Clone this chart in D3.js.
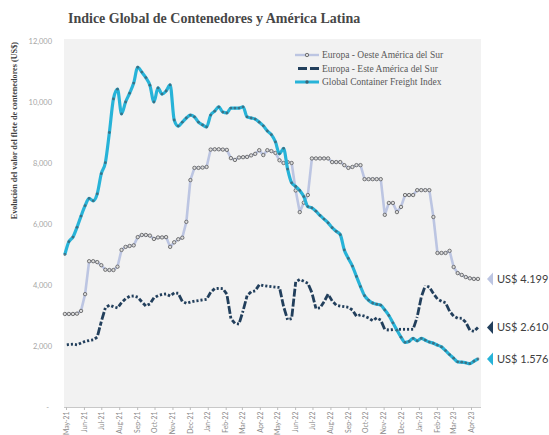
<!DOCTYPE html>
<html>
<head>
<meta charset="utf-8">
<script src="https://cdn.jsdelivr.net/npm/d3@7"></script>
<style>
  body { margin: 0; background: #ffffff; }
  svg { display: block; }
</style>
</head>
<body>
<svg id="chart" width="549" height="435"></svg>
<script>
// Weekly freight rates for a 40' container (US$)
const seriesNames = [
  "Europa - Oeste América del Sur",
  "Europa - Este América del Sur",
  "Global Container Freight Index"
];

const oesteSur = [
  3050, 3050, 3050, 3060, 3150, 3700, 4780, 4780, 4750, 4650,
  4500, 4490, 4490, 4600, 5150, 5250, 5280, 5300, 5570, 5640,
  5640, 5620, 5510, 5560, 5560, 5570, 5250, 5400, 5500, 5550,
  6070, 7440, 7840, 7840, 7850, 7870, 8440, 8450, 8450, 8440,
  8430, 8160, 8100, 8180, 8190, 8200, 8250, 8300, 8420, 8260,
  8420, 8390, 8330, 8090, 8000, 8030, 8000, 7100, 6390, 6700,
  6950, 8150, 8150, 8150, 8150, 8150, 8030, 8030, 8030, 7930,
  7840, 7870, 7930, 7930, 7470, 7470, 7470, 7470, 7470, 6300,
  6690, 6690, 6390, 6560, 6950, 6950, 6950, 7110, 7110, 7110,
  7110, 6230, 5050, 5050, 5050, 5120, 4590, 4390, 4330, 4260,
  4220, 4200, 4199
];

const esteSur = [
  2030, 2050, 2060, 2040, 2100, 2150, 2180, 2200, 2290, 2800,
  3250, 3340, 3290, 3250, 3420, 3550, 3630, 3640, 3600, 3450,
  3310, 3380, 3580, 3650, 3690, 3705, 3640, 3740, 3730, 3460,
  3400, 3440, 3470, 3490, 3510, 3530, 3760, 3880, 3890, 3880,
  3700, 2900, 2740, 2720, 3150, 3650, 3780, 3810, 4010, 3980,
  3960, 3945, 3930, 3920, 3300, 2860, 2900, 4100, 4180, 4120,
  4060, 3750, 3230, 3250, 3450, 3700, 3480, 3340, 3310, 3290,
  3270, 3180, 2980, 3020, 2980, 2920, 2830, 2920, 2850, 2540,
  2525, 2540, 2547, 2547, 2547, 2547, 2547, 2950, 3600, 3980,
  3930, 3720, 3540, 3470, 3420, 3140, 2980, 2910, 2910, 2780,
  2520, 2480, 2610
];

const fbxGlobal = [
  5000, 5420, 5570, 5890, 6260, 6600, 6840, 6760, 6990, 7650,
  8010, 9000, 10100, 10420, 9610, 10000, 10290, 10620, 11140, 10980,
  10800, 10550, 10000, 10460, 10260, 10360, 10560, 9410, 9210, 9340,
  9475, 9570, 9510, 9340, 9250, 9180, 9570, 9700, 9840, 9670,
  9640, 9800, 9800, 9800, 9840, 9510, 9475, 9440, 9340, 9220,
  9050, 8930, 8690, 8300, 8480, 7800, 7350, 7230, 7100, 6900,
  6570, 6530, 6420, 6280, 6160, 6040, 5880, 5760, 5650, 5150,
  4870, 4620, 4280, 3950, 3650, 3500, 3410, 3370, 3340, 3180,
  3000, 2760, 2520, 2290, 2120, 2150, 2250, 2170, 2250, 2190,
  2130, 2090, 2030, 1970, 1850, 1720, 1600, 1480, 1470, 1450,
  1420, 1500, 1576
];

const monthLabels = [
  "May-21", "Jun-21", "Jul-21", "Aug-21", "Sep-21", "Oct-21", "Nov-21", "Dec-21",
  "Jan-22", "Feb-22", "Mar-22", "Apr-22", "May-22", "Jun-22", "Jul-22", "Aug-22",
  "Sep-22", "Oct-22", "Nov-22", "Dec-22", "Jan-23", "Feb-23", "Mar-23", "Apr-23"
];

const yTicks = [0, 2000, 4000, 6000, 8000, 10000, 12000];
const yTickLabels = ["-", "2,000", "4,000", "6,000", "8,000", "10,000", "12,000"];

const endValues = [4199, 2610, 1576];
const endLabels = ["US$ 4.199", "US$ 2.610", "US$ 1.576"];

const chartTitle = "Indice Global de Contenedores y América Latina";
const yTitle = "Evolución del valor del flete de contenedores (US$)";

// Weekly observation dates and monthly tick dates
const weeks = d3.timeDay.range(new Date(2021, 3, 29), new Date(2023, 3, 14), 7);
const months = d3.timeMonth.range(new Date(2021, 4, 1), new Date(2023, 4, 1));

const colors = { oeste: "#bcc5e2", este: "#223f5c", fbx: "#27b3d8" };

const svg = d3.select("#chart");

const plot = { left: 64, right: 481, top: 39, bottom: 407 };

const x = d3.scaleTime()
  .domain([new Date(2021, 4, 1), new Date(2023, 3, 1)])
  .range([66, 471]);

const y = d3.scaleLinear()
  .domain([0, 12000])
  .range([plot.bottom, 41]);

// plot background
svg.append("rect")
  .attr("x", plot.left).attr("y", plot.top)
  .attr("width", plot.right - plot.left).attr("height", plot.bottom - plot.top)
  .attr("fill", "#f2f2f2");

// title
svg.append("text")
  .attr("x", 68).attr("y", 23)
  .attr("font-family", "'Liberation Serif', 'DejaVu Serif', serif")
  .attr("font-weight", "bold")
  .attr("font-size", 14)
  .attr("fill", "#474747")
  .text(chartTitle);

// y-axis title
svg.append("text")
  .attr("transform", "translate(17,42) rotate(-90)")
  .attr("text-anchor", "end")
  .attr("font-family", "'Liberation Serif', 'DejaVu Serif', serif")
  .attr("font-weight", "bold")
  .attr("font-size", 8.2)
  .attr("fill", "#404040")
  .text(yTitle);

// y-axis tick labels
const yAxis = d3.axisLeft(y)
  .tickValues(yTicks)
  .tickSize(0)
  .tickPadding(0)
  .tickFormat((d, i) => yTickLabels[i]);
const gy = svg.append("g").attr("transform", "translate(52,0)").call(yAxis);
gy.select(".domain").remove();
gy.selectAll("text")
  .attr("font-family", "Lato, 'Open Sans', sans-serif")
  .attr("font-size", 7.5)
  .attr("fill", "#a6a6a6");
gy.selectAll(".tick").filter(d => d === 0).select("text").attr("x", -3);

// x-axis
const xAxis = d3.axisBottom(x)
  .tickValues(months)
  .tickSize(3)
  .tickPadding(4)
  .tickFormat((d, i) => monthLabels[i]);
const gx = svg.append("g").attr("transform", `translate(0,${plot.bottom})`).call(xAxis);
gx.select(".domain")
  .attr("d", `M${plot.left},0.5H${plot.right}`)
  .attr("stroke", "#c8c8c8");
gx.selectAll(".tick line").attr("stroke", "#bdbdbd");
gx.selectAll("text")
  .attr("font-family", "Lato, 'Open Sans', sans-serif")
  .attr("font-size", 6.8)
  .attr("fill", "#8c8c8c")
  .attr("text-anchor", "end")
  .attr("transform", "rotate(-90)")
  .attr("x", -4.5)
  .attr("y", 0)
  .attr("dy", "0.32em");

const pts = vals => vals.map((v, i) => [x(weeks[i]), y(v)]);

// Europa - Oeste América del Sur: light line with small open markers
const oestePts = pts(oesteSur);
svg.append("path")
  .attr("d", d3.line()(oestePts))
  .attr("fill", "none")
  .attr("stroke", colors.oeste)
  .attr("stroke-width", 2.6)
  .attr("stroke-linejoin", "round");
svg.append("g").selectAll("circle")
  .data(oestePts)
  .join("circle")
  .attr("cx", d => d[0]).attr("cy", d => d[1])
  .attr("r", 1.7)
  .attr("fill", "#dcdcdc")
  .attr("stroke", "#595959")
  .attr("stroke-width", 0.8);

// Europa - Este América del Sur: dashed dark line, dash pattern restarts each week
const estePts = pts(esteSur);
const segLine = d3.line();
svg.append("g").selectAll("path")
  .data(d3.pairs(estePts))
  .join("path")
  .attr("d", d => segLine(d))
  .attr("fill", "none")
  .attr("stroke", colors.este)
  .attr("stroke-width", 2.8)
  .attr("stroke-dasharray", "8,2")
  .attr("stroke-dashoffset", 8);

// Global Container Freight Index: cyan line with dark markers
const fbxPts = pts(fbxGlobal);
svg.append("path")
  .attr("d", d3.line().curve(d3.curveMonotoneX)(fbxPts))
  .attr("fill", "none")
  .attr("stroke", colors.fbx)
  .attr("stroke-width", 3.2)
  .attr("stroke-linejoin", "round");
svg.append("g").selectAll("circle")
  .data(fbxPts)
  .join("circle")
  .attr("cx", d => d[0]).attr("cy", d => d[1])
  .attr("r", 1.4)
  .attr("fill", "#3f6272")
  .attr("opacity", 0.8);

// legend
const legend = svg.append("g").attr("transform", "translate(295,55)");
const legendRows = [
  { name: seriesNames[0], key: "oeste" },
  { name: seriesNames[1], key: "este" },
  { name: seriesNames[2], key: "fbx" }
];
legendRows.forEach((row, i) => {
  const g = legend.append("g").attr("transform", `translate(0,${i * 13.5})`);
  if (row.key === "este") {
    g.append("path").attr("d", "M0,0H24")
      .attr("stroke", colors.este).attr("stroke-width", 2.8)
      .attr("stroke-dasharray", "9,3").attr("stroke-dashoffset", 9);
  } else {
    g.append("path").attr("d", "M0,0H24")
      .attr("stroke", colors[row.key])
      .attr("stroke-width", row.key === "fbx" ? 3 : 2.4);
    g.append("circle").attr("cx", 12).attr("cy", 0).attr("r", 1.7)
      .attr("fill", row.key === "fbx" ? "#3f6272" : "#dcdcdc")
      .attr("stroke", row.key === "fbx" ? "none" : "#595959")
      .attr("stroke-width", 0.8);
  }
  g.append("text")
    .attr("x", 27).attr("y", 0).attr("dy", "0.33em")
    .attr("font-family", "'Liberation Serif', 'DejaVu Serif', serif")
    .attr("font-size", 9.5)
    .attr("fill", "#595959")
    .text(row.name);
});

// end-of-series markers and value labels
const endColors = [colors.oeste, colors.este, colors.fbx];
endValues.forEach((v, i) => {
  const yy = y(v);
  svg.append("path")
    .attr("d", `M487,${yy}L493,${yy - 6.5}L493,${yy + 6.5}Z`)
    .attr("fill", endColors[i]);
  svg.append("text")
    .attr("x", 497).attr("y", yy).attr("dy", "0.35em")
    .attr("font-family", "Lato, 'Open Sans', sans-serif")
    .attr("font-size", 11)
    .attr("fill", "#404040")
    .text(endLabels[i]);
});
</script>
</body>
</html>
